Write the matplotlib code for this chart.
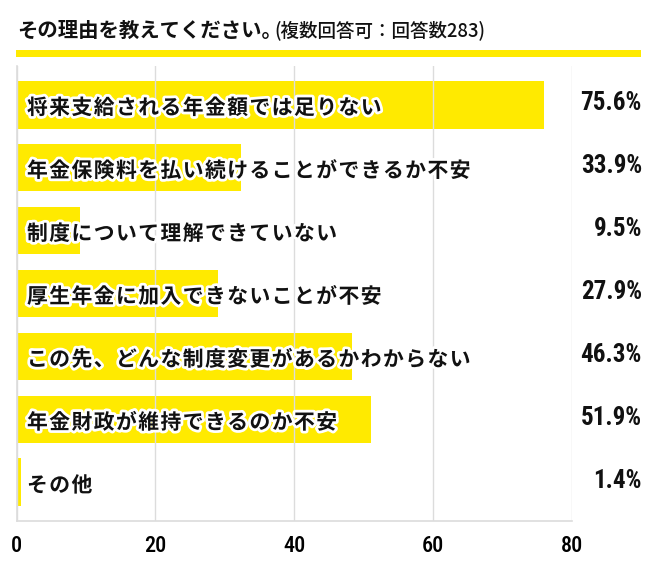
import numpy as np
import matplotlib as mpl
import matplotlib.pyplot as plt
import matplotlib.patheffects as pe
from matplotlib import font_manager

# 使えるフォントを選ぶ（数字は細長い書体にしたい）
names = {f.name for f in font_manager.fontManager.ttflist}
cond = 'DejaVu Sans'
for n in ['Roboto Condensed', 'Liberation Sans Narrow']:
    if n in names:
        cond = n
        break
mpl.rcParams['font.family'] = ['Noto Sans CJK JP', 'DejaVu Sans']

labels = ['将来支給される年金額では足りない',
          '年金保険料を払い続けることができるか不安',
          '制度について理解できていない',
          '厚生年金に加入できないことが不安',
          'この先、どんな制度変更があるかわからない',
          '年金財政が維持できるのか不安',
          'その他']
bar_values = [76.0, 32.4, 9.1, 29.0, 48.3, 51.0, 0.6]
pct_labels = ['75.6%', '33.9%', '9.5%', '27.9%', '46.3%', '51.9%', '1.4%']
xticks = [0, 20, 40, 60, 80]

yellow = '#FFEA00'
grid_c = '#dcdcdc'

fig = plt.figure(figsize=(6.55, 5.75), dpi=100)
ax = fig.add_axes([0.0255, 0.0939, 0.8473, 0.7913])

y = np.arange(len(labels))
ax.barh(y, bar_values, height=0.757, color=yellow, zorder=1)
ax.set_xlim(0, 80)
ax.set_ylim(len(labels) - 0.385, -0.615)
ax.set_yticks([])
ax.set_xticks(xticks)
ax.set_xticklabels([str(t) for t in xticks], family=[cond, 'DejaVu Sans'],
                   stretch='condensed', fontsize=16, fontweight='medium')
ax.tick_params(axis='x', length=0, pad=10)
ax.set_axisbelow(False)
ax.grid(axis='x', color=grid_c, lw=1)
ax.spines['top'].set_color('none')
ax.spines['right'].set_color('none')
ax.spines['left'].set_color(grid_c)
ax.spines['bottom'].set_color(grid_c)
ax.spines['left'].set_linewidth(1.2)
ax.spines['bottom'].set_linewidth(1.2)

# 棒の中のラベル（字間をあけるため一文字ずつ置く）
pitch = 22.25
stroke = [pe.withStroke(linewidth=4, foreground='white')]
for i, lab in enumerate(labels):
    for j, ch in enumerate(lab):
        ax.annotate(ch, xy=(0, i), xytext=((20.7 + j * pitch) * 0.72, -9.5 * 0.72),
                    textcoords='offset points', ha='center', va='baseline',
                    fontsize=15, fontweight='bold', color='#111111',
                    path_effects=stroke, zorder=3)

# 右側のパーセント
for i, p in enumerate(pct_labels):
    ax.annotate(p, xy=(1, i), xycoords=('axes fraction', 'data'),
                xytext=(70.3 * 0.72, 1.0), textcoords='offset points',
                ha='right', va='center', fontsize=18, fontweight='bold',
                family=[cond, 'DejaVu Sans'], stretch='condensed',
                color='#111111', annotation_clip=False)

# タイトルと黄色い線
fig.text(16.7 / 655, 1 - 30 / 575, 'その理由を教えてください。', fontsize=14.7,
         fontweight='bold', va='center', ha='left', color='#111111')
fig.text(274 / 655, 1 - 30 / 575, '(複数回答可：回答数283)', fontsize=13.3,
         fontweight='medium', va='center', ha='left', color='#111111')
fig.patches.append(plt.Rectangle((16 / 655, 1 - 56.7 / 575), 625 / 655, 6.7 / 575,
                                 transform=fig.transFigure, color=yellow, lw=0))

plt.savefig('out.png', dpi=100)
